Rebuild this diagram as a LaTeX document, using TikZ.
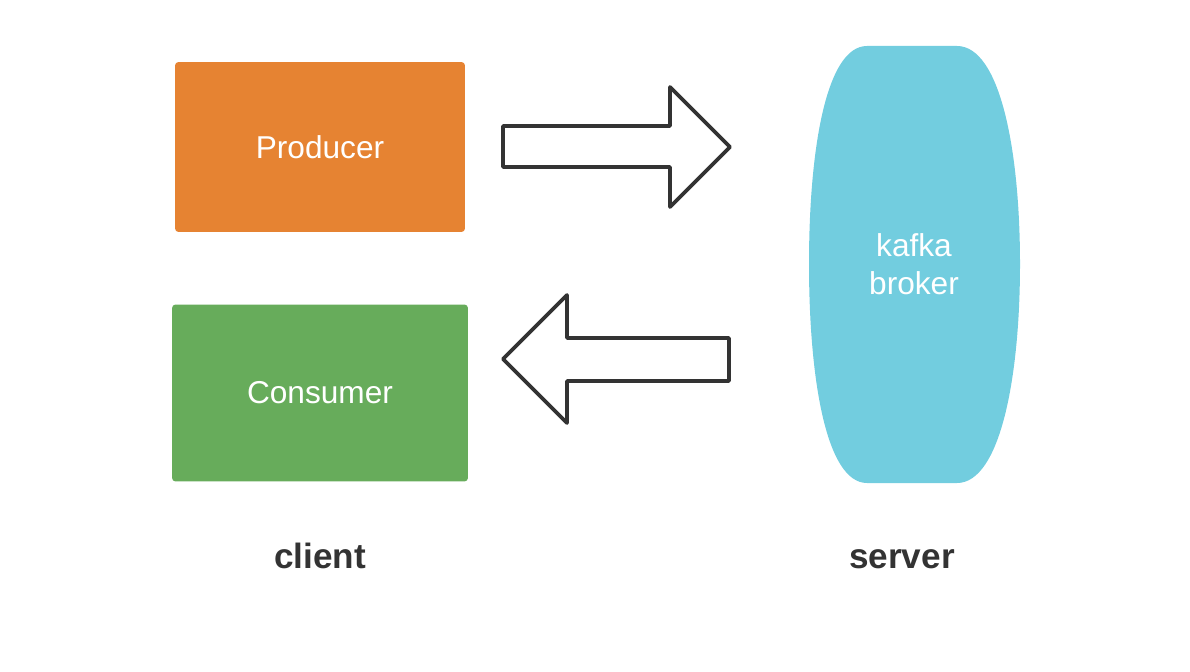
\documentclass[tikz,border=0pt]{standalone}
\usepackage{fontspec}
\setmainfont{Liberation Sans}
\usetikzlibrary{positioning}
\definecolor{fg}{HTML}{333333}
\definecolor{prodfill}{HTML}{E68332}
\definecolor{consfill}{HTML}{67AC5B}
\definecolor{brokfill}{HTML}{72CDDF}
\definecolor{stroke}{HTML}{333333}

\begin{document}
\begin{tikzpicture}[
  x=0.02cm, y=-0.02cm,
  font=\fontsize{18}{21.5}\selectfont,
  app/.style={rounded corners=2pt, text=white, inner sep=0pt},
  bigarrow/.style={draw=stroke, line width=2.1pt, fill=white, line join=round},
  side/.style={font=\fontsize{20}{24}\selectfont\bfseries, text=fg, anchor=base},
]
\useasboundingbox (0,0) rectangle (1190,672);
% client side: producer on top, consumer below
\node[app, fill=prodfill, minimum width=5.8cm, minimum height=3.4cm] (prod) at (320,147) {Producer};
\node[app, fill=consfill, minimum width=5.92cm, minimum height=3.54cm] (cons) at (320,393) {Consumer};
\node[side] (client) at (320,568) {client};
% server side: the broker blob
\fill[brokfill] (867,46) -- (957,46) .. controls (1000,46) and (1020,150) .. (1020,264)
  .. controls (1020,378) and (1000,483) .. (957,483) -- (867,483)
  .. controls (826,483) and (809,378) .. (809,264)
  .. controls (809,150) and (826,46) .. (867,46) -- cycle;
\node[align=center, text=white] (broker) at (914,264) {kafka\\broker};
\node[side] (server) at (902,568) {server};
% hollow arrows: produce (right), consume (left)
\draw[bigarrow] (503,126) -- (670,126) -- (670,87) -- (730,147) -- (670,207) -- (670,167) -- (503,167) -- cycle;
\draw[bigarrow] (729,338) -- (567,338) -- (567,295) -- (503,359) -- (567,423) -- (567,381) -- (729,381) -- cycle;
\end{tikzpicture}
\end{document}
